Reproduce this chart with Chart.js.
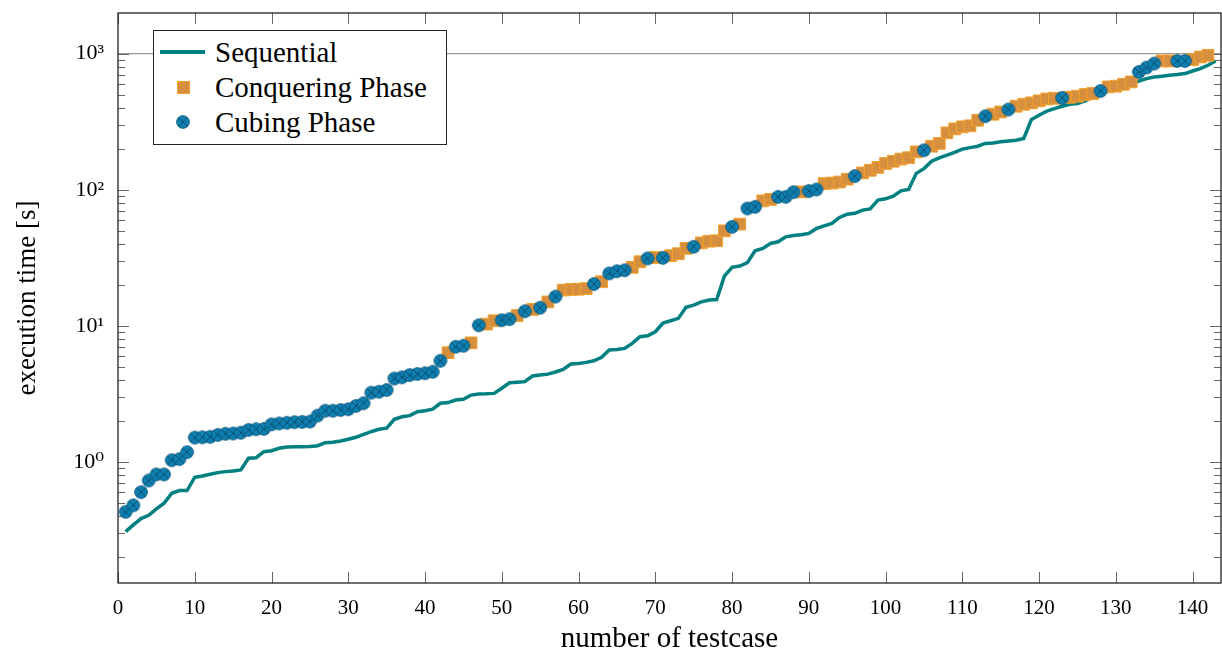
<!DOCTYPE html>
<html>
<head>
<meta charset="utf-8">
<script src="https://cdn.jsdelivr.net/npm/chart.js@4.4.1/dist/chart.umd.min.js"></script>
<style>
  html, body { margin: 0; padding: 0; background: #fff; overflow: hidden; }
  #wrap { position: relative; width: 1222px; height: 657px; }
  #timesChart { display: block; }
  #legend {
    position: absolute; left: 153px; top: 30px; width: 292px; height: 113px;
    border: 1px solid #222; background: #fff;
    font-family: 'Liberation Serif', 'DejaVu Serif', serif; font-size: 29px; color: #000;
  }
  .item { position: absolute; left: 0; width: 290px; height: 30px; }
  .item span { position: absolute; left: 61px; top: 0; line-height: 30px; white-space: nowrap; }
  .sample { position: absolute; }
</style>
</head>
<body>
<div id="wrap">
  <canvas id="timesChart" width="1222" height="657"></canvas>
  <div id="legend">
    <div class="item" style="top:6px">
      <div class="sample" style="left:6px;top:13px;width:45px;height:4px;background:#008080"></div>
      <span>Sequential</span>
    </div>
    <div class="item" style="top:41px">
      <div class="sample" style="left:23px;top:9px;width:11px;height:11px;background:#d68f3e;border:1px solid #f4a12c"></div>
      <span>Conquering Phase</span>
    </div>
    <div class="item" style="top:76px">
      <svg class="sample" style="left:21px;top:7px" width="16" height="16">
        <circle cx="8" cy="8" r="6.3" fill="#0f7fb0" stroke="#0a5a80" stroke-width="1"/>
        <path d="M3.6 3.6 L12.4 12.4 M12.4 3.6 L3.6 12.4" stroke="#0a4f72" stroke-width="1"/>
      </svg>
      <span>Cubing Phase</span>
    </div>
  </div>
</div>
<script>
// execution time [s] of the sequential solver, testcase 1..143
const sequential = [
  0.308, 0.345, 0.384, 0.406, 0.452, 0.497, 0.589, 0.616, 0.616, 0.772,
  0.789, 0.812, 0.835, 0.849, 0.859, 0.873, 1.064, 1.075, 1.19, 1.21,
  1.26, 1.289, 1.296, 1.296, 1.30, 1.317, 1.386, 1.395, 1.426, 1.467,
  1.518, 1.597, 1.67, 1.74, 1.77, 2.06, 2.15, 2.19, 2.34, 2.38,
  2.44, 2.70, 2.73, 2.85, 2.89, 3.10, 3.16, 3.17, 3.19, 3.48,
  3.82, 3.85, 3.89, 4.28, 4.35, 4.42, 4.58, 4.79, 5.24, 5.30,
  5.39, 5.54, 5.87, 6.64, 6.70, 6.83, 7.44, 8.32, 8.45, 9.05,
  10.5, 10.9, 11.35, 13.7, 14.2, 15.0, 15.5, 15.6, 23.2, 26.9,
  27.5, 29.1, 35.6, 37.1, 40.3, 41.5, 45.1, 46.2, 46.7, 47.8,
  52, 54.3, 56.6, 62.6, 66.2, 67.2, 70.9, 72.4, 83.9, 85.8,
  89.8, 98.2, 100.5, 132, 143, 162, 171.5, 179.5, 188, 199,
  204, 209, 219, 221, 225, 228, 231, 238, 328, 353,
  378, 395, 411, 425, 430, 450, 481, 509, 532, 554,
  577, 603, 630, 656, 674, 683, 694, 702, 714, 746,
  777, 822, 884
];

// execution time [s] of the parallel run, testcase 1..142
const phaseTime = [
  0.43, 0.48, 0.60, 0.73, 0.81, 0.81, 1.03, 1.05, 1.18, 1.51,
  1.52, 1.53, 1.58, 1.61, 1.62, 1.64, 1.72, 1.74, 1.75, 1.89,
  1.92, 1.94, 1.96, 1.97, 1.98, 2.19, 2.38, 2.38, 2.41, 2.44,
  2.58, 2.70, 3.23, 3.28, 3.38, 4.1, 4.19, 4.35, 4.43, 4.49,
  4.6, 5.54, 6.35, 7.02, 7.14, 7.5, 10.1, 10.3, 10.9, 11.0,
  11.2, 11.9, 12.8, 13.2, 13.6, 15.0, 16.4, 18.3, 18.5, 18.6,
  18.8, 20.3, 21.1, 24.3, 25.2, 25.6, 26.9, 29.6, 31.3, 31.8,
  31.6, 32.8, 33.9, 37.1, 38.1, 40.7, 41.9, 42.2, 49.9, 53.4,
  55.9, 72.9, 74.9, 82.9, 84.9, 88.7, 88.7, 96, 96.5, 97.9,
  100.5, 111, 112, 114, 119.6, 126, 133, 139, 146, 156,
  162, 168, 172, 190, 195, 209, 219, 262, 280, 290,
  295, 324, 347, 359, 373, 389, 411, 425, 435, 450,
  465, 470, 473, 478, 487, 501, 510, 532, 570, 577,
  596, 620, 734, 791, 846, 884, 884, 884, 884, 905,
  946, 973
];

// testcases that finished in the cubing phase (all others: conquering phase)
const cubingCases = [
  1, 2, 3, 4, 5, 6, 7, 8, 9, 10, 11, 12, 13, 14, 15, 16, 17, 18, 19, 20,
  21, 22, 23, 24, 25, 26, 27, 28, 29, 30, 31, 32, 33, 34, 35, 36, 37, 38, 39, 40,
  41, 42, 44, 45, 47, 50, 51, 53, 55, 57, 62, 64, 65, 66, 69, 71, 75, 80,
  82, 83, 86, 87, 88, 90, 91, 96, 105, 113, 116, 123, 128, 133, 134, 135, 138, 139
];

const xTickValues = [0, 10, 20, 30, 40, 50, 60, 70, 80, 90, 100, 110, 120, 130, 140];
const yTickValues = [1, 10, 100, 1000];
const yTickLabels = ['10\u2070', '10\u00b9', '10\u00b2', '10\u00b3'];

const serif = "'Liberation Serif', 'DejaVu Serif', serif";

// circle with a cross, like the otimes mark
function otimesMark() {
    const c = document.createElement('canvas');
    c.width = 16; c.height = 16;
    const g = c.getContext('2d');
    g.beginPath();
    g.arc(8, 8, 6.3, 0, Math.PI * 2);
    g.fillStyle = '#0f7fb0';
    g.fill();
    g.strokeStyle = '#0a5a80';
    g.lineWidth = 1;
    g.stroke();
    g.beginPath();
    g.moveTo(3.6, 3.6); g.lineTo(12.4, 12.4);
    g.moveTo(12.4, 3.6); g.lineTo(3.6, 12.4);
    g.strokeStyle = '#0a4f72';
    g.stroke();
    return c;
}

const frameAndTicks = {
    id: 'frameAndTicks',
    beforeDatasetsDraw(chart) {
        const { ctx, chartArea: a, scales: { x, y } } = chart;
        ctx.save();
        ctx.strokeStyle = '#666';
        ctx.lineWidth = 1;
        ctx.beginPath();
        xTickValues.forEach(v => {
            const px = Math.round(x.getPixelForValue(v)) + 0.5;
            ctx.moveTo(px, a.bottom); ctx.lineTo(px, a.bottom - 11);
            ctx.moveTo(px, a.top); ctx.lineTo(px, a.top + 11);
        });
        for (let e = -1; e <= 3; e++) {
            for (let m = 1; m <= 9; m++) {
                const v = m * Math.pow(10, e);
                if (v < y.min || v > y.max) continue;
                const len = m === 1 ? 11 : 7;
                const py = Math.round(y.getPixelForValue(v)) + 0.5;
                ctx.moveTo(a.left, py); ctx.lineTo(a.left + len, py);
                ctx.moveTo(a.right, py); ctx.lineTo(a.right - len, py);
            }
        }
        ctx.stroke();
        ctx.strokeStyle = '#222';
        ctx.lineWidth = 1.3;
        ctx.strokeRect(a.left, a.top, a.right - a.left, a.bottom - a.top);
        ctx.restore();
    }
};

document.addEventListener("DOMContentLoaded", () => {
    const ctx = document.getElementById('timesChart').getContext('2d');

    const seqPoints = sequential.map((v, i) => ({ x: i + 1, y: v }));
    const conqPoints = [];
    const cubePoints = [];
    phaseTime.forEach((v, i) => {
        const p = { x: i + 1, y: v };
        if (cubingCases.includes(i + 1)) cubePoints.push(p); else conqPoints.push(p);
    });

    new Chart(ctx, {
        type: 'scatter',
        data: {
            datasets: [{
                label: 'Cubing Phase',
                data: cubePoints,
                pointStyle: otimesMark(),
                pointRadius: 7,
                order: 0
            }, {
                label: 'Conquering Phase',
                data: conqPoints,
                pointStyle: 'rect',
                pointRadius: 8.3,
                backgroundColor: '#d68f3e',
                borderColor: '#f4a12c',
                borderWidth: 1,
                order: 1
            }, {
                label: 'Sequential',
                data: seqPoints,
                showLine: true,
                pointRadius: 0,
                borderColor: '#008080',
                borderWidth: 3.5,
                tension: 0,
                order: 2
            }]
        },
        options: {
            responsive: false,
            devicePixelRatio: 1,
            animation: false,
            layout: { autoPadding: false, padding: { top: 13, right: 1, left: 0, bottom: 0 } },
            plugins: {
                legend: { display: false },
                tooltip: { enabled: false }
            },
            scales: {
                x: {
                    type: 'linear',
                    min: 0,
                    max: 143.7,
                    afterBuildTicks: s => { s.ticks = xTickValues.map(v => ({ value: v })); },
                    afterFit: s => { s.height = 74; s.paddingLeft = 0; s.paddingRight = 0; },
                    grid: { display: false },
                    border: { display: false },
                    ticks: {
                        autoSkip: false,
                        maxRotation: 0,
                        padding: 5,
                        color: '#000',
                        font: { family: serif, size: 21 }
                    },
                    title: {
                        display: true,
                        text: 'number of testcase',
                        color: '#000',
                        font: { family: serif, size: 29 },
                        padding: { top: 0, bottom: 0 }
                    }
                },
                y: {
                    type: 'logarithmic',
                    min: 0.129,
                    max: 1990,
                    afterBuildTicks: s => { s.ticks = yTickValues.map(v => ({ value: v })); },
                    afterFit: s => { s.width = 118; s.paddingTop = 0; s.paddingBottom = 0; },
                    grid: {
                        drawTicks: false,
                        color: c => (c.tick && c.tick.value === 1000) ? '#999' : 'rgba(0,0,0,0)',
                        lineWidth: 1.3
                    },
                    border: { display: false },
                    ticks: {
                        autoSkip: false,
                        padding: 14,
                        color: '#000',
                        font: { family: serif, size: 22 },
                        callback: (v, i) => yTickLabels[i]
                    },
                    title: {
                        display: true,
                        text: 'execution time [s]',
                        color: '#000',
                        font: { family: serif, size: 27 },
                        padding: { top: 12, bottom: 0 }
                    }
                }
            }
        },
        plugins: [frameAndTicks]
    });
});
</script>
</body>
</html>
